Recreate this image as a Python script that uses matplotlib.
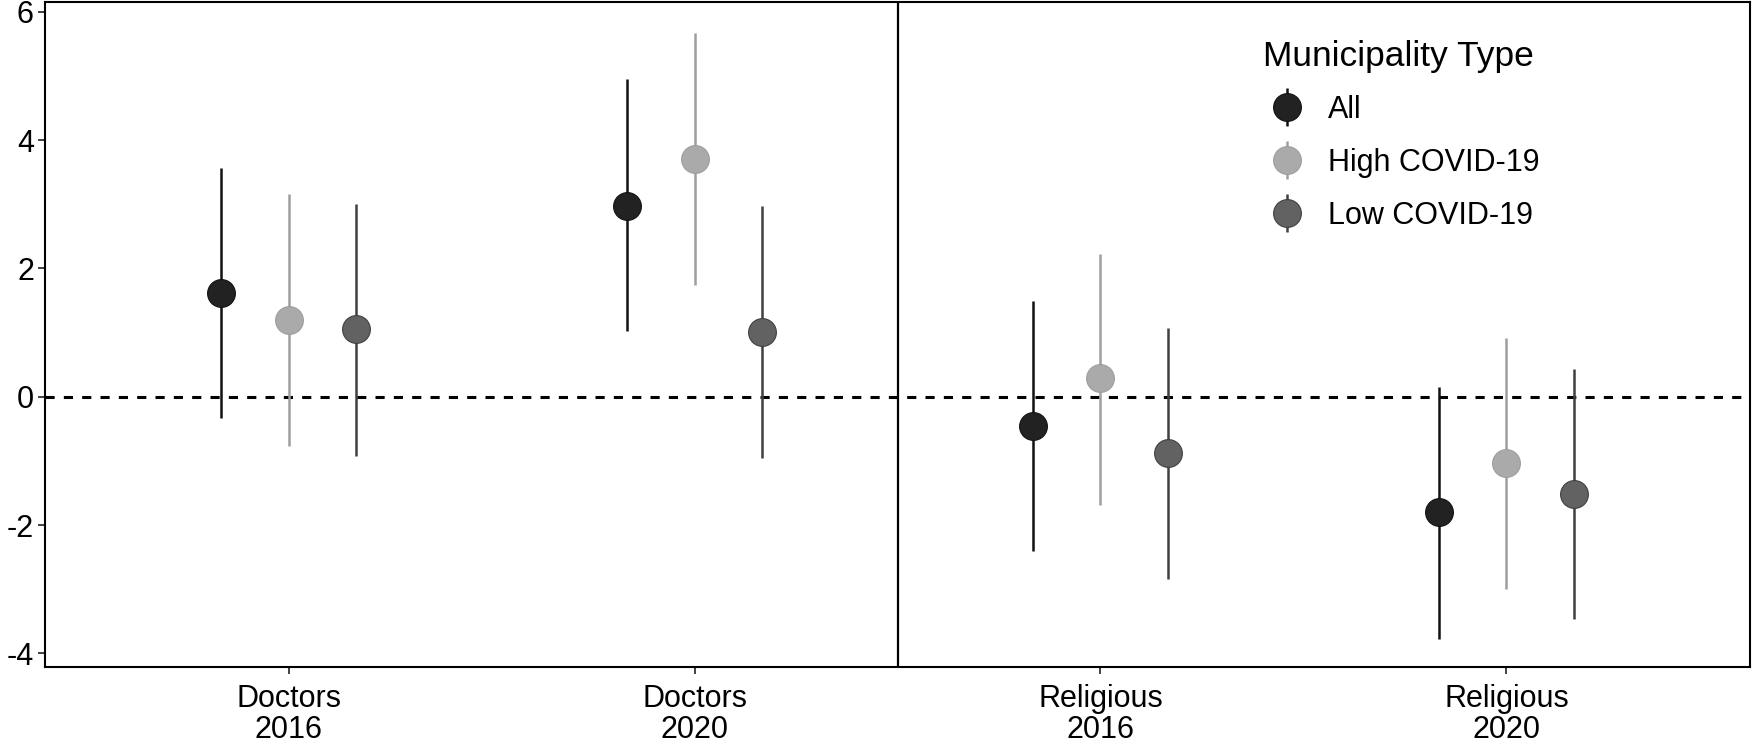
import matplotlib.pyplot as plt
import numpy as np
from matplotlib.legend_handler import HandlerErrorbar

plt.rcParams['font.family'] = ['Liberation Sans', 'DejaVu Sans']

categories = ["Doctors\n2016", "Doctors\n2020", "Religious\n2016", "Religious\n2020"]
groups = ["All", "High COVID-19", "Low COVID-19"]

# point estimates and 95% interval bounds, per group, per category
est = {
    "All":           [1.62, 2.98, -0.45, -1.80],
    "High COVID-19": [1.20, 3.70, 0.30, -1.03],
    "Low COVID-19":  [1.05, 1.01, -0.87, -1.52],
}
lower = {
    "All":           [-0.33, 1.03, -2.41, -3.77],
    "High COVID-19": [-0.77, 1.75, -1.69, -2.99],
    "Low COVID-19":  [-0.92, -0.96, -2.84, -3.47],
}
upper = {
    "All":           [3.56, 4.96, 1.50, 0.16],
    "High COVID-19": [3.16, 5.67, 2.23, 0.92],
    "Low COVID-19":  [3.00, 2.97, 1.08, 0.44],
}

point_col = {"All": "#222222", "High COVID-19": "#aaaaaa", "Low COVID-19": "#626262"}
line_col = {"All": "#111111", "High COVID-19": "#9e9e9e", "Low COVID-19": "#404040"}
offsets = {"All": -1/6, "High COVID-19": 0.0, "Low COVID-19": 1/6}

fig = plt.figure(figsize=(17.54, 7.46), dpi=100)
ax = fig.add_axes([0.0257, 0.106, 0.972, 0.891])

x = np.arange(1, len(categories) + 1)
ax.axhline(0, color="black", lw=2.2, ls=(0, (3, 3)), zorder=1)
ax.axvline(2.5, color="black", lw=1.6, zorder=1)

for g in groups:
    e = np.array(est[g])
    lo = np.array(lower[g])
    hi = np.array(upper[g])
    ax.errorbar(x + offsets[g], e, yerr=[e - lo, hi - e], fmt="o",
                color=line_col[g], ecolor=line_col[g], elinewidth=1.8,
                markersize=20, markerfacecolor=point_col[g],
                markeredgecolor=line_col[g], markeredgewidth=0.8,
                capsize=0, label=g, zorder=3)

ax.set_xlim(0.4, 4.6)
ax.set_ylim(-4.21, 6.15)
ax.set_xticks(x)
ax.set_xticklabels(categories, fontsize=22, linespacing=1.05)
ax.set_yticks([-4, -2, 0, 2, 4, 6])
ax.set_yticklabels(["-4", "-2", "0", "2", "4", "6"], fontsize=22)
ax.tick_params(axis="x", length=5, width=1.3, color="#333333", pad=7)
ax.tick_params(axis="y", length=5, width=1.3, color="#333333", pad=3)
for s in ax.spines.values():
    s.set_linewidth(1.5)
    s.set_color("black")

leg = ax.legend(title="Municipality Type", loc="upper left",
                bbox_to_anchor=(0.698, 0.985), frameon=False,
                fontsize=22, title_fontsize=25.5, handletextpad=0.55,
                labelspacing=0.75, handlelength=1.6,
                handler_map={type(ax.containers[0]): HandlerErrorbar(yerr_size=0.62)})
leg._legend_box.align = "left"
leg._legend_box.sep = 16

fig.savefig("out.png", dpi=100)
